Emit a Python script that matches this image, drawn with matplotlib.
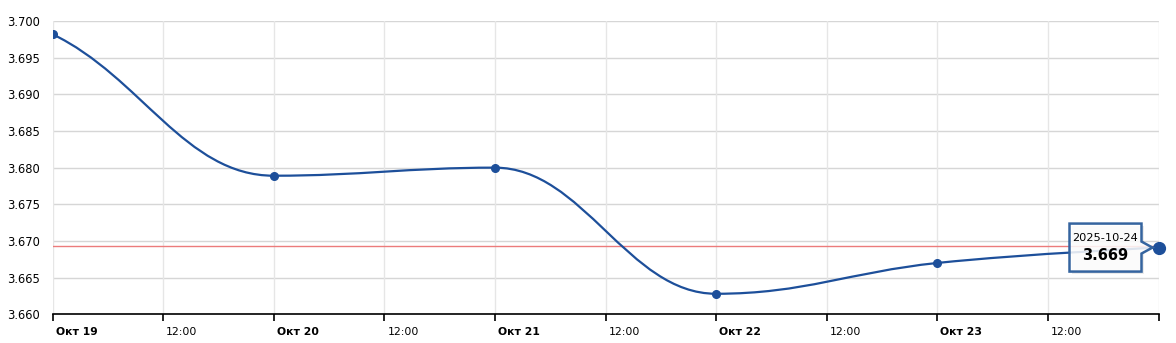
import numpy as np
import matplotlib
matplotlib.use("Agg")
import matplotlib.pyplot as plt
import matplotlib.dates as mdates
import matplotlib.transforms as mtrans
from matplotlib.path import Path
from matplotlib.patches import PathPatch, Polygon
import datetime as dt

# ---- data ----
dates = ["2025-10-19", "2025-10-20", "2025-10-21", "2025-10-22", "2025-10-23", "2025-10-24"]
values = [3.6982, 3.6789, 3.6800, 3.6628, 3.6670, 3.6691]
ref_level = 3.6693
y_ticks = [3.660, 3.665, 3.670, 3.675, 3.680, 3.685, 3.690, 3.695, 3.700]
day_labels = ["Окт 19", "Окт 20", "Окт 21", "Окт 22", "Окт 23"]
half_label = "12:00"
tooltip_date = "2025-10-24"
tooltip_value = "3.669"

LINE = "#1d4f9a"

W, H = 1176, 343
fig = plt.figure(figsize=(W / 100, H / 100), dpi=100)
L, R, T, B = 52.5, 1158.5, 21, 314.3
ax = fig.add_axes([L / W, 1 - B / H, (R - L) / W, (B - T) / H])

x = mdates.date2num([dt.datetime.strptime(d, "%Y-%m-%d") for d in dates])
y = np.array(values)

# Highcharts-style spline control points (eased tangent at the first point)
def spline_path(xs, ys, smoothing=1.5, start_ease=0.3):
    n = len(xs)
    denom = smoothing + 1
    lc = [None] * n
    rc = [None] * n
    for i in range(n):
        px, py = xs[i], ys[i]
        if 0 < i < n - 1:
            lx, ly = xs[i - 1], ys[i - 1]
            nx, ny = xs[i + 1], ys[i + 1]
            lcx = (smoothing * px + lx) / denom
            lcy = (smoothing * py + ly) / denom
            rcx = (smoothing * px + nx) / denom
            rcy = (smoothing * py + ny) / denom
            corr = (rcy - lcy) * (rcx - px) / (rcx - lcx) + py - rcy
            lcy += corr
            rcy += corr
            if lcy > ly and lcy > py:
                lcy = max(ly, py); rcy = 2 * py - lcy
            elif lcy < ly and lcy < py:
                lcy = min(ly, py); rcy = 2 * py - lcy
            if rcy > ny and rcy > py:
                rcy = max(ny, py); lcy = 2 * py - rcy
            elif rcy < ny and rcy < py:
                rcy = min(ny, py); lcy = 2 * py - rcy
            lc[i] = (lcx, lcy)
            rc[i] = (rcx, rcy)
        elif i == 0:
            lc[i] = (px, py)
            rc[i] = ((smoothing * px + xs[1]) / denom, py + start_ease * (ys[1] - py))
        else:
            lc[i] = (px, py)
            rc[i] = (px, py)
    verts = [(xs[0], ys[0])]
    codes = [Path.MOVETO]
    for i in range(1, n):
        verts += [rc[i - 1], lc[i], (xs[i], ys[i])]
        codes += [Path.CURVE4] * 3
    return Path(verts, codes)

# grid
for yt in y_ticks:
    ax.axhline(yt, color="#d6d6d6", lw=1.0, zorder=0)
half_ticks = np.arange(x[0], x[-1] + 0.01, 0.5)
for xt in half_ticks:
    ax.axvline(xt, color="#e6e6e6", lw=1.0, zorder=0)

ax.axhline(ref_level, color="#ec7b7b", lw=1.0, zorder=1)

patch = PathPatch(spline_path(x, y), facecolor="none", edgecolor=LINE, lw=1.6, zorder=3,
                  capstyle="round", joinstyle="round")
ax.add_patch(patch)
ax.plot(x[:-1], y[:-1], "o", color=LINE, ms=5.5, zorder=4)
ax.plot(x[-1:], y[-1:], "o", color=LINE, ms=8.5, zorder=6, clip_on=False)

ax.set_xlim(x[0], x[-1])
ax.set_ylim(3.660, 3.700)

for s in ["left", "right", "top"]:
    ax.spines[s].set_visible(False)
ax.spines["bottom"].set_color("#000000")
ax.spines["bottom"].set_linewidth(1.2)

ax.set_yticks(y_ticks)
ax.set_yticklabels([f"{v:.3f}" for v in y_ticks], fontsize=8.3, color="#000000")
ax.tick_params(axis="y", length=0, pad=9)

ax.set_xticks(half_ticks)
labels = []
for i, xt in enumerate(half_ticks):
    if i % 2 == 0:
        labels.append(day_labels[i // 2] if i // 2 < len(day_labels) else "")
    else:
        labels.append(half_label)
ax.set_xticklabels(labels, fontsize=7.8, color="#000000")
for i, t in enumerate(ax.get_xticklabels()):
    t.set_ha("left")
    if i % 2 == 0:
        t.set_fontweight("bold")
ax.tick_params(axis="x", length=5, width=1.2, color="#000000", pad=4, direction="out")
offset = mtrans.ScaledTranslation(3 / 100, 0, fig.dpi_scale_trans)
for t in ax.get_xticklabels():
    t.set_transform(t.get_transform() + offset)

# tooltip
fig.canvas.draw()
px, py = ax.transData.transform((x[-1], y[-1]))
bx1 = px - 17
bx0 = bx1 - 72
by0 = py - 24
by1 = py + 24
poly = Polygon([(bx0, by0), (bx1, by0), (bx1, py - 6), (px - 6, py), (bx1, py + 6), (bx1, by1), (bx0, by1)],
               closed=True, transform=None, facecolor=(1, 1, 1, 0.85), edgecolor="#35649f", lw=1.8, zorder=5)
shadow = Polygon([(bx0 + 2, by0 - 2), (bx1 + 2, by0 - 2), (bx1 + 2, by1 - 2), (bx0 + 2, by1 - 2)],
                 closed=True, transform=None, facecolor=(0, 0, 0, 0.08), edgecolor="none", zorder=4.5)
fig.add_artist(shadow)
fig.add_artist(poly)
cx = (bx0 + bx1) / 2
fig.text(cx / W, (py + 10) / H, tooltip_date, ha="center", va="center", fontsize=8.2, color="#000000", zorder=7)
fig.text(cx / W, (py - 8) / H, tooltip_value, ha="center", va="center", fontsize=10.5, fontweight="bold",
         color="#000000", zorder=7)

fig.savefig("out.png", dpi=100)
